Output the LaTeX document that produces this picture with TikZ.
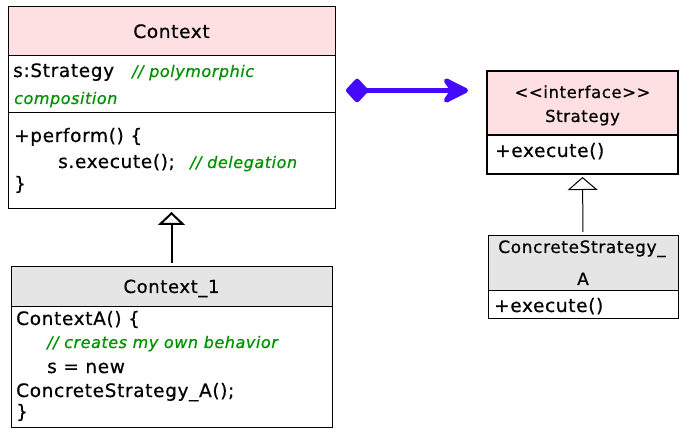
\documentclass[tikz,border=0pt]{standalone}
\usepackage{fontspec}
\setmainfont{DejaVu Sans}[LetterSpace=3.5, FakeBold=0.6]
\usetikzlibrary{arrows.meta}
\definecolor{hdrpink}{RGB}{255,224,226}
\definecolor{hdrgrey}{RGB}{229,229,229}
\definecolor{cmtgreen}{RGB}{0,145,0}
\definecolor{compblue}{RGB}{68,10,255}
\newcommand\setfs[1]{\fontsize{#1}{#1}\selectfont}
\begin{document}
\begin{tikzpicture}[x=1pt,y=-1pt,
  box/.style={draw=black, line width=1pt, anchor=north west, inner sep=0pt, outer sep=0pt},
  thickbox/.style={box, line width=2pt},
  txt/.style={anchor=base west, inner sep=0pt, font=\setfs{18.5}},
  ttl/.style={anchor=base, inner sep=0pt, font=\setfs{18.5}},
  cmt/.style={anchor=base west, inner sep=0pt, font=\setfs{16}\itshape, text=cmtgreen},
  inh/.style={draw=black},
  compose/.style={draw=compblue, line width=5pt, line join=round,
     {Diamond[length=24pt, width=26pt, round]}-{Stealth[length=32pt, width=32pt, inset=11pt, round]}}
]
\useasboundingbox (0,0) rectangle (693,443);
% Context
\node[box, fill=hdrpink, minimum width=327pt, minimum height=49pt] (ctxH) at (8,7) {};
\node[box, minimum width=327pt, minimum height=57pt] (ctxA) at (8,56) {};
\node[box, minimum width=327pt, minimum height=96pt] (ctxM) at (8,113) {};
\node[ttl] (tCtx) at (171.5,38) {Context};
\node[txt] (tS) at (13,77) {s:Strategy};
\node[cmt] (tPoly) at (132,77) {// polymorphic};
\node[cmt] (tComp) at (14,104) {composition};
\node[txt] (tPerf) at (14,142) {+perform() \{};
\node[txt] (tExec) at (58,168) {s.execute();};
\node[cmt] (tDel) at (190,168) {// delegation};
\node[txt] (tClose) at (14,190) {\}};
% Context_1
\node[box, fill=hdrgrey, minimum width=321pt, minimum height=40pt] (c1H) at (11,267) {};
\node[box, minimum width=321pt, minimum height=120pt] (c1B) at (11,307) {};
\node[ttl, font=\setfs{18}] (tC1) at (171.5,293) {Context\_1};
\node[txt] (tCA) at (16,325) {ContextA() \{};
\node[cmt] (tOwn) at (47,348) {// creates my own behavior};
\node[txt] (tNew) at (47,373) {s = new};
\node[txt] (tCSA) at (16,397) {ConcreteStrategy\_A();};
\node[txt] (tClose2) at (16,418) {\}};
% Strategy
\node[thickbox, fill=hdrpink, minimum width=191pt, minimum height=64pt] (stH) at (487,71) {};
\node[thickbox, minimum width=191pt, minimum height=39pt] (stM) at (487,135) {};
\node[ttl, font=\setfs{16.5}] (tIf) at (582.5,98) {<{}<interface>{}>};
\node[ttl, font=\setfs{16.5}] (tSt) at (582.5,122) {Strategy};
\node[txt] (tEx1) at (495,157) {+execute()};
% ConcreteStrategy_A
\node[box, fill=hdrgrey, minimum width=190pt, minimum height=55pt] (csH) at (488,236) {};
\node[box, minimum width=190pt, minimum height=28pt] (csM) at (488,291) {};
\node[ttl, font=\setfs{17}] (tCS) at (582,253) {ConcreteStrategy\_};
\node[ttl, font=\setfs{17}] (tA) at (583,285) {A};
\node[txt] (tEx2) at (494,312) {+execute()};
% connectors
\draw[inh, line width=2pt, -{Triangle[open, length=13pt, width=27pt, fill=white]}, shorten <=4pt, shorten >=3pt] (c1H.north) -- (ctxM.south);
\draw[inh, line width=1pt, -{Triangle[open, length=13pt, width=30pt, fill=white]}, shorten <=4pt, shorten >=3pt] (csH.north) -- (stM.south);
\draw[compose, shorten <=11pt, shorten >=19pt] ([yshift=-6pt]ctxA.east) -- ([yshift=12.5pt]stH.west);
\end{tikzpicture}
\end{document}
